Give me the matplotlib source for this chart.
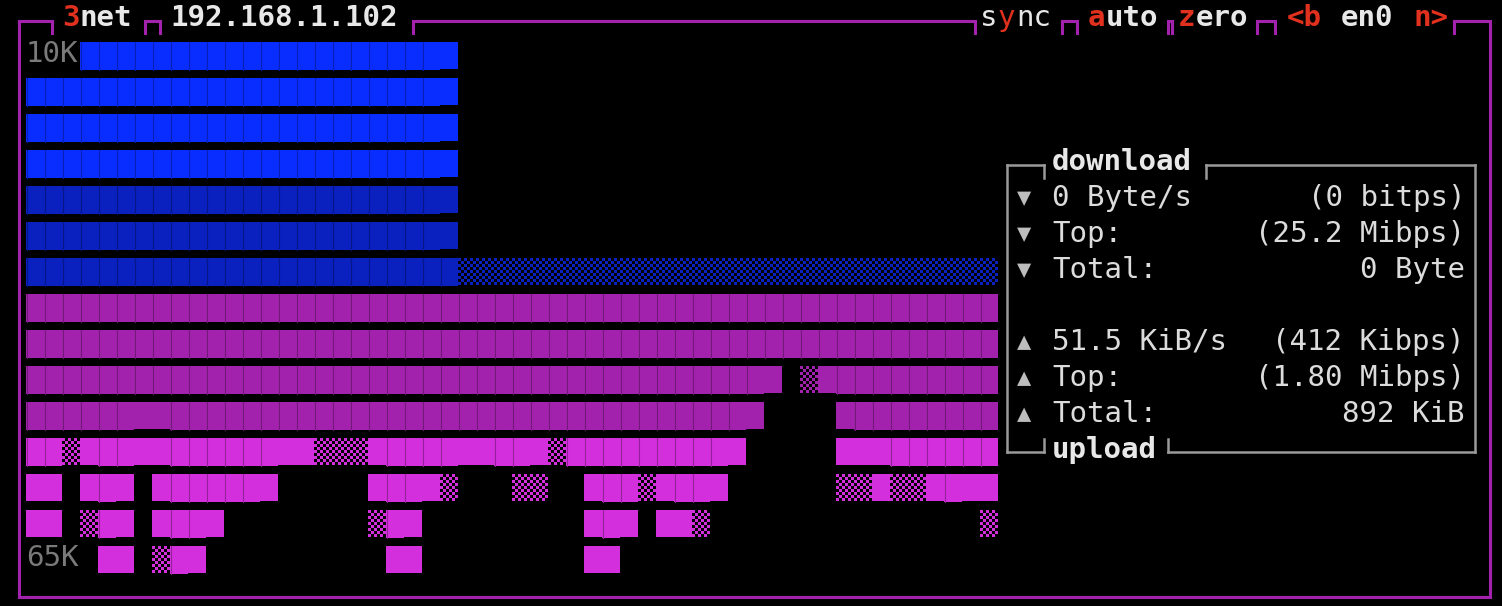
import numpy as np
import matplotlib.pyplot as plt
import matplotlib.colors as mc
from matplotlib.patches import Rectangle

# Graph cells: '#' solid, '=' dense dots, '.' sparse dots, ' ' empty
DOWNLOAD_ROWS = [
    "   " + "#" * 20 + "=" + " " * 30,
    "#" * 23 + "=" + " " * 30,
    "#" * 23 + "=" + " " * 30,
    "#" * 23 + "=" + " " * 30,
    "#" * 23 + "=" + " " * 30,
    "#" * 23 + "=" + " " * 30,
    "#" * 24 + "." * 30,
]
UPLOAD_ROWS = [
    "#" * 54,
    "#" * 54,
    "#" * 41 + "= .=" + "#" * 9,
    "######==" + "#" * 32 + "=    =" + "#" * 8,
    "##.=##==######==...=####==##=." + "#" * 9 + "=     ===######",
    "== =#= =#####=     =##=.   ..  =##.=##=      ..=..=#==",
    "== .#= =##=        .#=         =#= ==.               .",
    "    == .#=          ==         ==                     ",
]
DL_COLORS = ["#0a2dff"] * 4 + ["#0a20bf"] * 3
UL_COLORS = ["#a322ad"] * 4 + ["#d42fdc"] * 4

Y_LABELS = ["10K", "65K"]
STATS = [
    ("▼", "0 Byte/s", "(0 bitps)"),
    ("▼", "Top:", "(25.2 Mibps)"),
    ("▼", "Total:", "0 Byte"),
    None,
    ("▲", "51.5 KiB/s", "(412 Kibps)"),
    ("▲", "Top:", "(1.80 Mibps)"),
    ("▲", "Total:", "892 KiB"),
]

X0, CW, Y0, RH, CH = 26, 18, 42, 36, 28
PURPLE = "#a322ad"
GRAY = "#9a9a9a"
WHITE = "#e8e8e8"
RED = "#e0301e"
MONO = "DejaVu Sans Mono"

fig = plt.figure(figsize=(15.02, 6.06), dpi=100, facecolor="black")
ax = fig.add_axes([0, 0, 1, 1])
ax.set_xlim(0, 1502)
ax.set_ylim(606, 0)
ax.axis("off")
ax.set_facecolor("black")


def darker(c, f=0.7):
    r, g, b = mc.to_rgb(c)
    return (r * f, g * f, b * f)


rows = DOWNLOAD_ROWS + UPLOAD_ROWS
colors = DL_COLORS + UL_COLORS
dx, dy, dcol = [], [], []
for r, (row, col) in enumerate(zip(rows, colors)):
    top = Y0 + RH * r
    for i, ch in enumerate(row):
        left = X0 + CW * i
        if ch == "#":
            ax.add_patch(Rectangle((left, top), CW, CH, facecolor=col, edgecolor="none"))
            ax.plot([left + 0.5, left + 0.5], [top, top + CH], color=darker(col), lw=0.8)
        elif ch in "=.":
            step = 3 if ch == "=" else 6
            for yy in np.arange(top + 1.5, top + CH, 3):
                off = 0 if ch == "=" else (3 if int((yy - top) // 3) % 2 else 0)
                for xx in np.arange(left + 1.5 + off, left + CW, step):
                    dx.append(xx)
                    dy.append(yy)
                    dcol.append(col)
ax.scatter(dx, dy, s=2.8, marker="s", c=dcol, linewidths=0)

# outer frame
lw = 2.2
ax.plot([19, 19], [21, 597], color=PURPLE, lw=lw)
ax.plot([1490, 1490], [21, 597], color=PURPLE, lw=lw)
ax.plot([19, 1490], [597, 597], color=PURPLE, lw=lw)
for a, b in [(19, 52), (145, 160), (413, 975), (1062, 1077), (1168, 1172), (1257, 1275), (1454, 1490)]:
    ax.plot([a, b], [21, 21], color=PURPLE, lw=lw)
    if a != 19:
        ax.plot([a, a], [21, 33], color=PURPLE, lw=lw)
    if b != 1490:
        ax.plot([b, b], [21, 33], color=PURPLE, lw=lw)

fs = 21


def txt(x, y, s, color=WHITE, bold=True):
    ax.text(x, y, s, color=color, fontsize=fs, family=MONO,
            fontweight="bold" if bold else "normal", va="center", ha="left")


txt(62, 18, "3", RED)
txt(80, 18, "net")
txt(170, 18, "192.168.1.102")
txt(980, 18, "s", bold=False)
txt(998, 18, "y", RED, bold=False)
txt(1016, 18, "nc", bold=False)
txt(1088, 18, "a", RED)
txt(1106, 18, "uto")
txt(1178, 18, "z", RED)
txt(1196, 18, "ero")
txt(1287, 18, "<b", RED)
txt(1341, 18, "en0")
txt(1413, 18, "n>", RED)

txt(26, 54, Y_LABELS[0], "#7a7a7a", bold=False)
txt(26, 558, Y_LABELS[1], "#7a7a7a", bold=False)

# stats box
blw = 1.8
ax.plot([1007, 1007], [165, 452], color=GRAY, lw=blw)
ax.plot([1475, 1475], [165, 452], color=GRAY, lw=blw)
for a, b in [(1007, 1044), (1206, 1475)]:
    ax.plot([a, b], [165, 165], color=GRAY, lw=blw)
ax.plot([1044, 1044], [165, 178], color=GRAY, lw=blw)
ax.plot([1206, 1206], [165, 178], color=GRAY, lw=blw)
for a, b in [(1007, 1044), (1168, 1475)]:
    ax.plot([a, b], [452, 452], color=GRAY, lw=blw)
ax.plot([1044, 1044], [439, 452], color=GRAY, lw=blw)
ax.plot([1168, 1168], [439, 452], color=GRAY, lw=blw)
txt(1052, 162, "download")
txt(1052, 450, "upload")
for k, st in enumerate(STATS):
    if st is None:
        continue
    y = 198 + 36 * k
    ax.text(1024, y, st[0], color="#bdbdbd", fontsize=fs - 4, family=MONO, va="center", ha="center")
    txt(1052, y, st[1], "#dcdcdc", bold=False)
    ax.text(1465, y, st[2], color="#dcdcdc", fontsize=fs, family=MONO, va="center", ha="right")

fig.savefig("out.png", dpi=100, facecolor="black")
